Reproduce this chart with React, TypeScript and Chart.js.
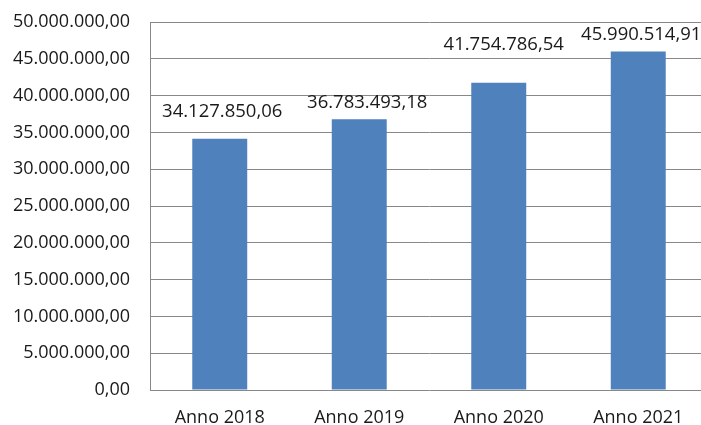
import React, { useEffect, useRef } from "react";
import { Chart, registerables } from "chart.js";

Chart.register(...registerables);

const categories = ["Anno 2018", "Anno 2019", "Anno 2020", "Anno 2021"];
const values = [34127850.06, 36783493.18, 41754786.54, 45990514.91];
const yMin = 0;
const yMax = 50000000;
const yStep = 5000000;

// manual label placement (Excel-like), distance above bar top and horizontal shift
const labelRise = [27, 17, 38, 16.5];
const labelShift = [2.5, 8, 5, 3];

function fmt(v: number): string {
  const neg = v < 0;
  const abs = Math.abs(v);
  const fixed = abs.toFixed(2);
  const [intPart, dec] = fixed.split(".");
  const withSep = intPart.replace(/\B(?=(\d{3})+(?!\d))/g, ".");
  return (neg ? "-" : "") + withSep + "," + dec;
}

const FONT = "'Open Sans', 'Liberation Sans', sans-serif";

const dataLabels = {
  id: "dataLabels",
  afterDatasetsDraw(chart: any) {
    const ctx = chart.ctx;
    const meta = chart.getDatasetMeta(0);
    ctx.save();
    ctx.font = `18.5px ${FONT}`;
    ctx.fillStyle = "#1a1a1a";
    ctx.textAlign = "center";
    ctx.textBaseline = "middle";
    meta.data.forEach((bar: any, i: number) => {
      ctx.fillText(fmt(values[i]), bar.x + labelShift[i], bar.y - labelRise[i]);
    });
    ctx.restore();
  },
};

export default function App() {
  const ref = useRef<HTMLCanvasElement | null>(null);
  useEffect(() => {
    if (!ref.current) return;
    const chart = new Chart(ref.current, {
      type: "bar",
      data: {
        labels: categories,
        datasets: [
          {
            data: values,
            backgroundColor: "#4F81BD",
            borderWidth: 0,
            categoryPercentage: 1,
            barPercentage: 0.394,
          },
        ],
      },
      options: {
        animation: false,
        responsive: false,
        maintainAspectRatio: false,
        devicePixelRatio: 1,
        layout: { padding: { top: 22, right: 0, bottom: 0, left: 0 } },
        plugins: {
          legend: { display: false },
          tooltip: { enabled: false },
        },
        scales: {
          x: {
            grid: { display: false, drawTicks: false },
            border: { display: false },
            ticks: {
              color: "#1a1a1a",
              font: { family: FONT, size: 18 },
              padding: 17,
              maxRotation: 0,
              autoSkip: false,
            },
            afterFit(scale: any) {
              scale.height = 35;
              scale.paddingLeft = 0;
              scale.paddingRight = 0;
            },
          },
          y: {
            min: yMin,
            max: yMax,
            grid: { color: "#888888", lineWidth: 1, drawTicks: false },
            border: { display: true, color: "#888888", width: 1 },
            ticks: {
              stepSize: yStep,
              color: "#1a1a1a",
              font: { family: FONT, size: 18 },
              padding: 20,
              callback: (v: any) => fmt(Number(v)),
            },
            afterFit(scale: any) {
              scale.width = 150;
              scale.paddingTop = 0;
              scale.paddingBottom = 0;
            },
          },
        },
      },
      plugins: [dataLabels],
    });
    return () => chart.destroy();
  }, []);

  return (
    <div
      style={{
        position: "fixed",
        left: 0,
        top: 0,
        width: 701,
        height: 425,
        overflow: "hidden",
        background: "#fff",
      }}
    >
      <canvas ref={ref} width={708} height={425} style={{ display: "block" }} />
    </div>
  );
}
